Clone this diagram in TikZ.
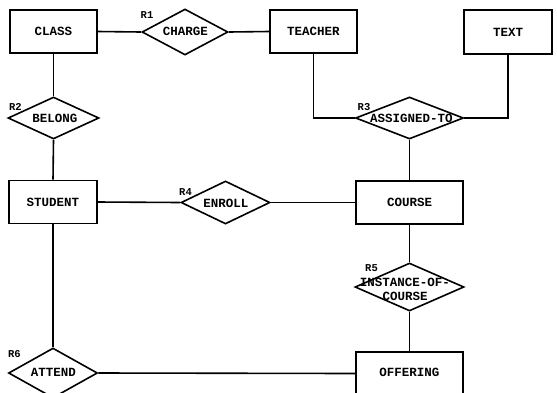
\documentclass[tikz,border=0pt]{standalone}
\usepackage{fontspec}
\setmonofont{Liberation Mono}
\usetikzlibrary{shapes.geometric}
\tikzset{
  ent/.style={draw, rectangle, line width=1.6pt, inner sep=0pt, font=\ttfamily\bfseries\fontsize{12.5}{14}\selectfont},
  rel/.style={draw, diamond, line width=1.6pt, inner sep=0pt},
  reltext/.style={font=\ttfamily\bfseries\fontsize{12.5}{14}\selectfont, align=center},
  rlab/.style={font=\ttfamily\bfseries\fontsize{10.5}{12}\selectfont, inner sep=0pt},
  conn/.style={line width=1.6pt}
}
\begin{document}
\begin{tikzpicture}[x=1pt,y=-1pt]
\fill[white] (0,0) rectangle (557,392);
\useasboundingbox (0,0) rectangle (557,392);
\clip (0,0) rectangle (557,392);
% entities
\node[ent, minimum width=87pt, minimum height=43pt] (class) at (53.5,31.5) {CLASS};
\node[ent, minimum width=87pt, minimum height=43pt] (teacher) at (313.5,31.5) {TEACHER};
\node[ent, minimum width=88pt, minimum height=44pt] (text) at (508,32) {TEXT};
\node[ent, minimum width=88pt, minimum height=43pt] (student) at (53,202) {STUDENT};
\node[ent, minimum width=107pt, minimum height=43pt] (course) at (409.5,202.5) {COURSE};
\node[ent, minimum width=107pt, minimum height=43pt] (offering) at (409.5,373.5) {};
\node[reltext] (offeringtext) at (409.5,372) {OFFERING};
% relationships
\node[rel, minimum width=86pt, minimum height=46pt] (charge) at (185,32) {};
\node[reltext] (chargetext) at (185.5,31) {CHARGE};
\node[rel, minimum width=91pt, minimum height=42pt] (belong) at (53.5,118) {};
\node[reltext] (belongtext) at (55,118) {BELONG};
\node[rel, minimum width=108pt, minimum height=42pt] (assigned) at (409.5,118) {};
\node[reltext] (assignedtext) at (411.5,118) {ASSIGNED-TO};
\node[rel, minimum width=89pt, minimum height=43pt] (enroll) at (225.5,202.5) {};
\node[reltext] (enrolltext) at (226,203) {ENROLL};
\node[rel, minimum width=109pt, minimum height=48pt] (instance) at (409.5,287) {};
\node[reltext] (instancetext) at (405,289) {INSTANCE-OF-\\COURSE};
\node[rel, minimum width=89pt, minimum height=50pt] (attend) at (53,373) {};
\node[reltext] (attendtext) at (53.5,372) {ATTEND};
% labels
\node[rlab] (r1) at (147,15.5) {R1};
\node[rlab] (r2) at (15.5,107) {R2};
\node[rlab] (r3) at (364,107.5) {R3};
\node[rlab] (r4) at (185.5,192) {R4};
\node[rlab] (r5) at (371.5,268) {R5};
\node[rlab] (r6) at (14.5,354.5) {R6};
% connectors
\draw[conn] (class.east) -- (charge.west);
\draw[conn] (charge.east) -- (teacher.west);
\draw[conn] (class.south) -- (belong.north);
\draw[conn] (belong.south) -- (student.north);
\draw[conn] (teacher.south) |- (assigned.west);
\draw[conn] (text.south) |- (assigned.east);
\draw[conn] (assigned.south) -- (course.north);
\draw[conn] (student.east) -- (enroll.west);
\draw[conn] (enroll.east) -- (course.west);
\draw[conn] (course.south) -- (instance.north);
\draw[conn] (instance.south) -- (offering.north);
\draw[conn] (student.south) -- (attend.north);
\draw[conn] (attend.east) -- (offering.west);
\end{tikzpicture}
\end{document}
